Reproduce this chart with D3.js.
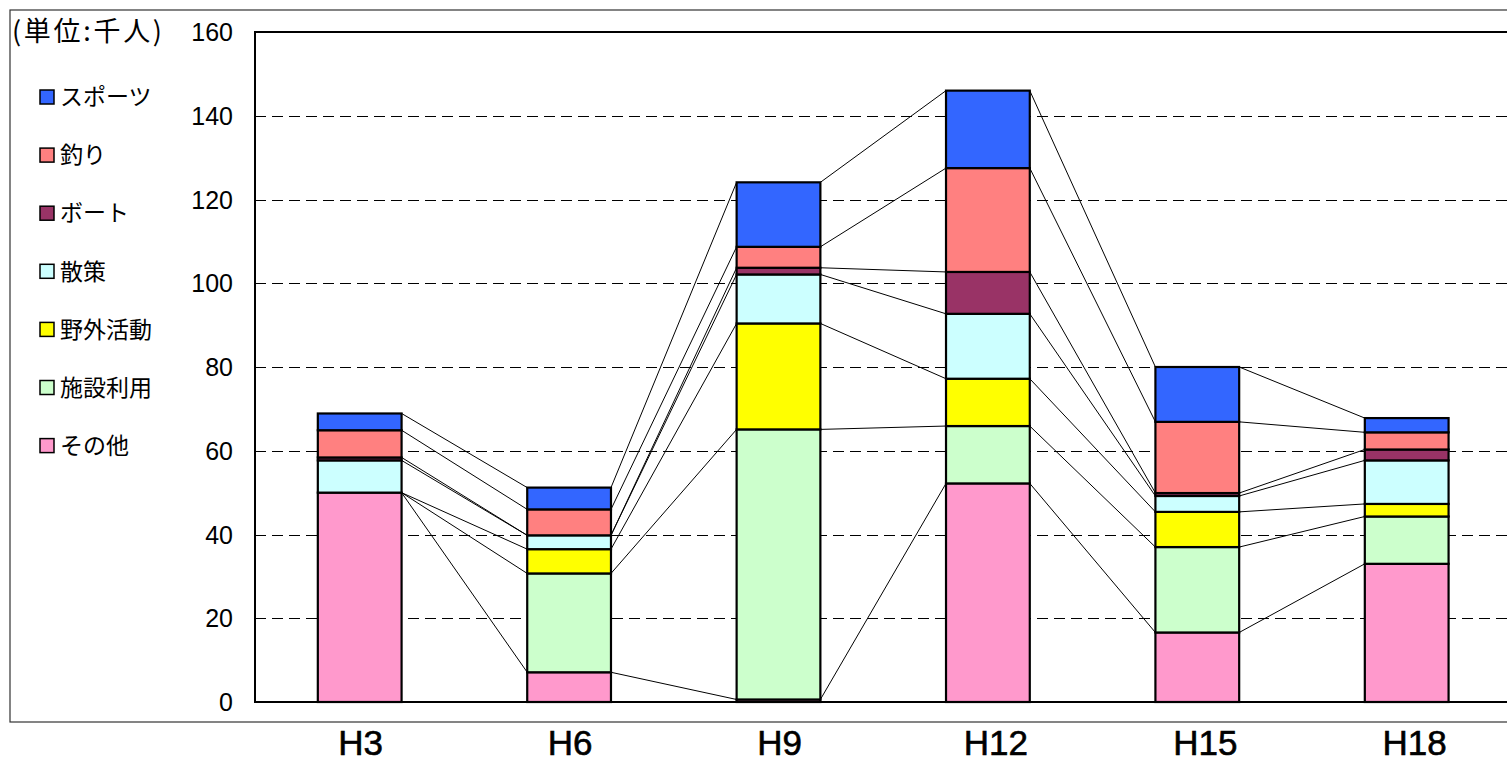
<!DOCTYPE html>
<html>
<head>
<meta charset="utf-8">
<script src="https://cdn.jsdelivr.net/npm/d3@7"></script>
<style>
  body { margin: 0; background: #fff; }
  svg { display: block; }
</style>
</head>
<body>
<svg id="chart" width="1507" height="765"></svg>
<script>
// data (単位:千人)
var categories = ['H3', 'H6', 'H9', 'H12', 'H15', 'H18'];
var seriesNames = ['その他', '施設利用', '野外活動', '散策', 'ボート', '釣り', 'スポーツ'];
var sonota   = [50.0, 7.1, 0.6, 52.2, 16.6, 33.0];
var shisetsu = [0, 23.6, 64.5, 13.7, 20.4, 11.3];
var yagai    = [0, 5.8, 25.3, 11.3, 8.4, 3.0];
var sansaku  = [7.7, 3.3, 11.7, 15.5, 3.8, 10.4];
var boat     = [0.7, 0, 1.6, 10.0, 0.7, 2.6];
var tsuri    = [6.5, 6.2, 5.0, 24.8, 17.0, 4.1];
var sports   = [4.0, 5.2, 15.4, 18.5, 13.1, 3.4];
var yTicks = [0, 20, 40, 60, 80, 100, 120, 140, 160];
var colors = ['#FF99CC', '#CCFFCC', '#FFFF00', '#CCFFFF', '#993366', '#FF8080', '#3366FF'];

var seriesValues = [sonota, shisetsu, yagai, sansaku, boat, tsuri, sports];

var rows = categories.map(function(c, i) {
    var r = { cat: c };
    seriesNames.forEach(function(s, k) { r[s] = seriesValues[k][i]; });
    return r;
});

var svg = d3.select('#chart');

var plotL = 255, plotT = 32, plotR = 1511.4, plotB = 702;

var x = d3.scaleBand()
    .domain(categories)
    .range([plotL, plotR])
    .paddingInner(0.6)
    .paddingOuter(0.3);

var y = d3.scaleLinear()
    .domain([0, 160])
    .range([plotB, plotT]);

var stacked = d3.stack().keys(seriesNames)(rows);

// outer frame
svg.append('rect')
    .attr('x', 10).attr('y', 10)
    .attr('width', 1520).attr('height', 712)
    .attr('fill', 'none')
    .attr('stroke', '#333')
    .attr('stroke-width', 1.2);

// gridlines
svg.append('g').attr('class', 'grid')
    .selectAll('line')
    .data(yTicks.filter(function(t) { return t > 0 && t < 160; }))
    .enter()
    .append('line')
    .attr('x1', plotL).attr('x2', plotR)
    .attr('y1', function(d) { return Math.round(y(d)) + 0.5; })
    .attr('y2', function(d) { return Math.round(y(d)) + 0.5; })
    .attr('stroke', '#000')
    .attr('stroke-width', 1)
    .attr('stroke-dasharray', '11,6');

// y tick labels
svg.append('g').attr('class', 'ylabels')
    .selectAll('text')
    .data(yTicks)
    .enter()
    .append('text')
    .attr('x', 233)
    .attr('y', function(d) { return y(d); })
    .attr('dy', '0.36em')
    .attr('text-anchor', 'end')
    .attr('font-family', '"Liberation Sans", Arial, sans-serif')
    .attr('font-size', 25)
    .attr('fill', '#000')
    .text(function(d) { return d; });

// series lines between bars
var bw = x.bandwidth();
var links = [];
stacked.forEach(function(layer) {
    for (var i = 0; i < categories.length - 1; i++) {
        links.push({
            x1: x(categories[i]) + bw,
            y1: y(layer[i][1]),
            x2: x(categories[i + 1]),
            y2: y(layer[i + 1][1])
        });
    }
});
svg.append('g').attr('class', 'serlines')
    .selectAll('line')
    .data(links)
    .enter()
    .append('line')
    .attr('x1', function(d) { return d.x1; })
    .attr('y1', function(d) { return d.y1; })
    .attr('x2', function(d) { return d.x2; })
    .attr('y2', function(d) { return d.y2; })
    .attr('stroke', '#000')
    .attr('stroke-width', 1);

// bars
svg.append('g').attr('class', 'bars')
    .selectAll('g')
    .data(stacked)
    .enter()
    .append('g')
    .attr('fill', function(d, k) { return colors[k]; })
    .selectAll('rect')
    .data(function(d) { return d; })
    .enter()
    .append('rect')
    .attr('x', function(d) { return x(d.data.cat); })
    .attr('y', function(d) { return y(d[1]); })
    .attr('width', bw)
    .attr('height', function(d) { return y(d[0]) - y(d[1]); })
    .attr('stroke', '#000')
    .attr('stroke-width', 2.2);

// plot area border (axes)
svg.append('path')
    .attr('d', 'M' + plotR + ',' + plotT + 'H' + plotL + 'V' + plotB + 'H' + plotR)
    .attr('fill', 'none')
    .attr('stroke', '#000')
    .attr('stroke-width', 2);

// x labels
svg.append('g').attr('class', 'xlabels')
    .selectAll('text')
    .data(categories)
    .enter()
    .append('text')
    .attr('x', function(d) { return x(d) + bw / 2 + (d.length - 2) * 7 + 1; })
    .attr('y', 755)
    .attr('text-anchor', 'middle')
    .attr('font-family', '"Liberation Sans", Arial, sans-serif')
    .attr('font-size', 35)
    .attr('stroke', '#000')
    .attr('stroke-width', 0.6)
    .attr('fill', '#000')
    .text(function(d) { return d; });

// unit label
svg.append('text')
    .attr('x', 12)
    .attr('y', 31)
    .attr('dy', '0.36em')
    .attr('font-family', '"Noto Sans CJK JP", sans-serif')
    .attr('font-size', 27)
    .attr('textLength', 150)
    .attr('lengthAdjust', 'spacing')
    .text('(単位:千人)');

// legend, top item is the top series
var legendItems = seriesNames.map(function(s, k) { return { name: s, color: colors[k] }; }).reverse();
var legend = svg.append('g').attr('class', 'legend')
    .selectAll('g')
    .data(legendItems)
    .enter()
    .append('g')
    .attr('transform', function(d, i) { return 'translate(40,' + (97 + i * 58.1) + ')'; });

legend.append('rect')
    .attr('x', 0).attr('y', -7)
    .attr('width', 14).attr('height', 14)
    .attr('fill', function(d) { return d.color; })
    .attr('stroke', '#000')
    .attr('stroke-width', 1.5);

legend.append('text')
    .attr('x', 20)
    .attr('y', 0)
    .attr('dy', '0.36em')
    .attr('font-family', '"Noto Sans CJK JP", sans-serif')
    .attr('font-size', 23)
    .attr('fill', '#000')
    .text(function(d) { return d.name; });
</script>
</body>
</html>
